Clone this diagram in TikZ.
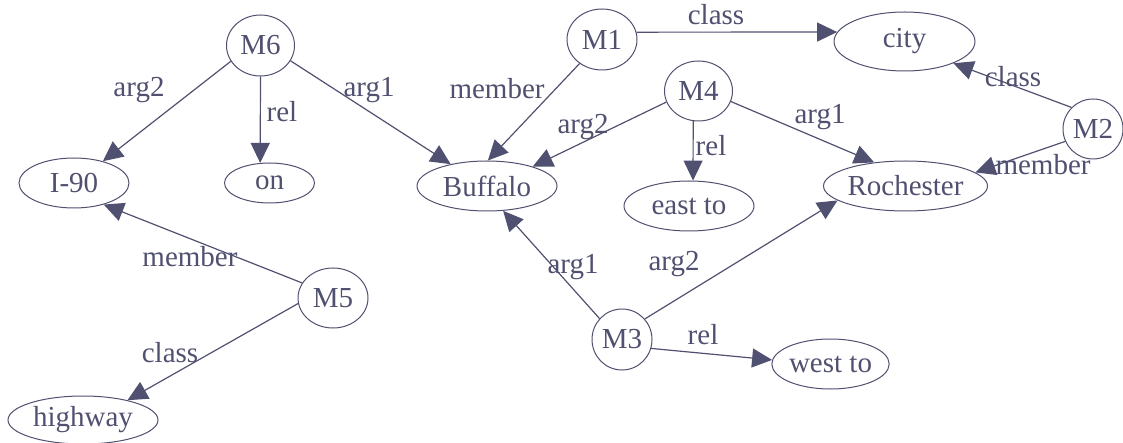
\documentclass[tikz,border=0pt]{standalone}
\usepackage{fontspec}
\setmainfont{Liberation Serif}
\usetikzlibrary{arrows.meta,shapes.geometric}
\definecolor{ink}{RGB}{80,80,112}
\tikzset{
  ent/.style={ellipse,draw=ink,line width=1pt,inner sep=0pt,text=ink,font=\fontsize{29}{32}\selectfont},
  lbl/.style={inner sep=0pt,text=ink,font=\fontsize{29}{32}\selectfont},
  arc/.style={draw=ink,line width=1.2pt,-{Triangle[length=20pt,width=19pt]},fill=none},
}
\begin{document}
\begin{tikzpicture}[x=1pt,y=-1pt]
\useasboundingbox (0,0) rectangle (1123,443);
% nodes
\node[ent,minimum width=68pt,minimum height=61pt] (M6) at (260.5,45.5) {M6};
\node[ent,minimum width=70pt,minimum height=61pt] (M1) at (602,39.5) {M1};
\node[ent,minimum width=68pt,minimum height=60pt] (M4) at (698.5,91) {M4};
\node[ent,minimum width=60pt,minimum height=60pt] (M2) at (1093,129) {M2};
\node[ent,minimum width=70pt,minimum height=60pt] (M5) at (333,298) {M5};
\node[ent,minimum width=60pt,minimum height=61pt] (M3) at (622,339.5) {M3};
\node[ent,minimum width=110pt,minimum height=50pt] (I90) at (74,183) {I-90};
\node[ent,minimum width=90pt,minimum height=40pt] (on) at (269.5,183) {on};
\node[ent,minimum width=140pt,minimum height=50pt] (Buf) at (487,186) {Buffalo};
\node[ent,minimum width=130pt,minimum height=50pt] (east) at (689,206) {east to};
\node[ent,minimum width=141pt,minimum height=59pt] (city) at (904.5,41.5) {city};
\node[ent,minimum width=162pt,minimum height=50pt] (Roch) at (905.5,186) {Rochester};
\node[ent,minimum width=150pt,minimum height=48pt] (hw) at (83,420) {highway};
\node[ent,minimum width=114pt,minimum height=50pt] (west) at (830.5,364) {west to};
% edges
\draw[arc] (M6.208) -- (I90.37);
\draw[arc] (M6.270) -- (on.115);
\draw[arc] (M6.333) -- (Buf.149);
\draw[arc] (M1.227) -- (Buf.88);
\draw[arc] (M1.12) -- (city.172);
\draw[arc] (M4.199) -- (Buf.23);
\draw[arc] (M4.260) -- (east.81);
\draw[arc] (M4.342) -- (Roch.143);
\draw[arc] (M2.135) -- (city.336);
\draw[arc] (M2.204) -- (Roch.11);
\draw[arc] (M5.154) -- (I90.324);
\draw[arc] (M5.189) -- (hw.24);
\draw[arc] (M3.137) -- (Buf.303);
\draw[arc] (M3.42) -- (Roch.192);
\draw[arc] (M3.343) -- (west.176);
% labels
\node[lbl] (l1) at (139,90) {arg2};
\node[lbl] (l2) at (282,112) {rel};
\node[lbl] (l3) at (369,90) {arg1};
\node[lbl] (l4) at (497,89) {member};
\node[lbl] (l5) at (716,15) {class};
\node[lbl] (l6) at (583,127) {arg2};
\node[lbl] (l7) at (711,146) {rel};
\node[lbl] (l8) at (820,117) {arg1};
\node[lbl] (l9) at (1013,77) {class};
\node[lbl] (l10) at (1043,165) {member};
\node[lbl] (l11) at (190,257) {member};
\node[lbl] (l12) at (170,353) {class};
\node[lbl] (l13) at (573,267) {arg1};
\node[lbl] (l14) at (674,264) {arg2};
\node[lbl] (l15) at (703,335) {rel};
\end{tikzpicture}
\end{document}
